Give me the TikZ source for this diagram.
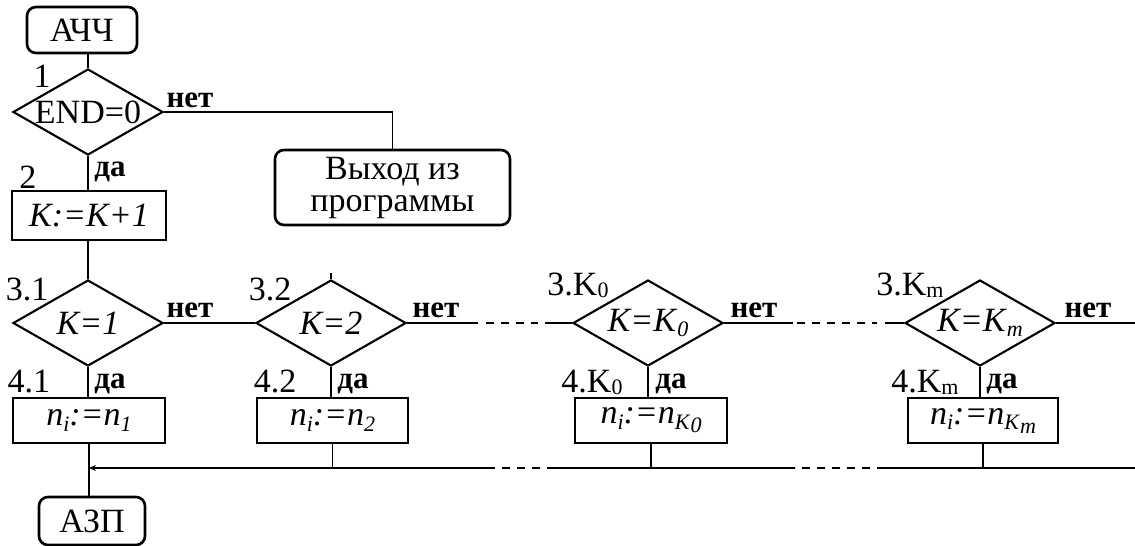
\documentclass[tikz,border=0pt]{standalone}
\usepackage{fontspec}
\setmainfont{Liberation Serif}
\usetikzlibrary{shapes.geometric,arrows.meta}

% lowered small text for indices
\newcommand\lowsub[1]{\raisebox{-0.35ex}{\fontsize{22}{22}\selectfont #1}}
% index in the block numbers, closer to the baseline
\newcommand\numsub[1]{\raisebox{-0.15ex}{\fontsize{22}{22}\selectfont #1}}

\begin{document}
\begin{tikzpicture}[x=1pt,y=-1pt,
  base/.style={font=\fontsize{34}{32}\selectfont},
  conn/.style={line width=1.3pt},
  term/.style={draw,line width=2.6pt,rounded corners=9pt,inner sep=0pt,base},
  proc/.style={draw,line width=2.8pt,inner sep=0pt,minimum height=45pt,base},
  cond/.style={draw,diamond,aspect=1.75,line width=2.1pt,inner sep=0pt,
               minimum width=150pt,minimum height=86pt,base},
  lbl/.style={inner sep=0pt,anchor=base,base},
  yes/.style={inner sep=0pt,anchor=base,font=\fontsize{31}{31}\selectfont\bfseries},
  dashseg/.style={conn,dash pattern=on 8pt off 7pt}
]
\useasboundingbox (0,0) rectangle (1135,546);

% terminals and the first check
\node[term,minimum width=110pt,minimum height=46pt] (ach) at (82,30) {АЧЧ};
\node[cond] (d1) at (88,112) {END=0};
\node[term,minimum width=235pt,minimum height=75pt,align=center] (exit) at (392.5,187.5) {Выход из\\программы};
\node[proc,minimum width=154pt,minimum height=49pt] (b2) at (89,215.5) {\textit{K:=K+1}};

% row of comparisons
\node[cond] (d31) at (88,323) {\textit{K=1}};
\node[cond] (d32) at (331,323) {\textit{K=2}};
\node[cond] (dk0) at (648,323) {\textit{K=K}\lowsub{\textit{0}}};
\node[cond] (dkm) at (980,323) {\textit{K=K}\lowsub{\textit{m}}};

% row of assignments
\node[proc,minimum width=152pt] (b41) at (89,420.5) {\textit{n}\lowsub{\textit{i}}\textit{:=n}\lowsub{\textit{1}}};
\node[proc,minimum width=151pt] (b42) at (332.5,420.5) {\textit{n}\lowsub{\textit{i}}\textit{:=n}\lowsub{\textit{2}}};
\node[proc,minimum width=152pt] (bk0) at (651,420.5) {\textit{n}\lowsub{\textit{i}}\textit{:=n}\lowsub{\textit{K}\lowsub{\textit{0}}}};
\node[proc,minimum width=150pt] (bkm) at (983,420.5) {\textit{n}\lowsub{\textit{i}}\textit{:=n}\lowsub{\textit{K}\lowsub{\textit{m}}}};

\node[term,minimum width=106pt,minimum height=48pt] (azp) at (92,521) {АЗП};

% block numbers
\node[lbl] (n1) at (42,87) {1};
\node[lbl] (n2) at (28,188) {2};
\node[lbl] (n31) at (27,300) {3.1};
\node[lbl] (n32) at (270,300) {3.2};
\node[lbl] (n3k0) at (578,295) {3.K\numsub{0}};
\node[lbl] (n3km) at (910,295) {3.K\numsub{m}};
\node[lbl] (n41) at (29,392) {4.1};
\node[lbl] (n42) at (275,392) {4.2};
\node[lbl] (n4k0) at (592,392) {4.K\numsub{0}};
\node[lbl] (n4km) at (925,392) {4.K\numsub{m}};

% branch labels
\node[yes] (no1) at (190,107) {нет};
\node[yes] (yes1) at (110,176) {да};
\node[yes] (no31) at (190,317) {нет};
\node[yes] (no32) at (436,317) {нет};
\node[yes] (nok0) at (754,317) {нет};
\node[yes] (nokm) at (1088,317) {нет};
\node[yes] (yes31) at (110,388) {да};
\node[yes] (yes32) at (353,388) {да};
\node[yes] (yesk0) at (671,388) {да};
\node[yes] (yeskm) at (1002,388) {да};

% free ends and breaks of the long lines
\coordinate (top32) at (331,273);
\coordinate (rowR) at (1135,323);
\coordinate (ga1) at (478,323);
\coordinate (ga2) at (486,323);
\coordinate (ga3) at (538,323);
\coordinate (ga4) at (545,323);
\coordinate (gb1) at (793,323);
\coordinate (gb2) at (797,323);
\coordinate (gb3) at (877,323);
\coordinate (gb4) at (885,323);
\coordinate (busR) at (1135,468);
\coordinate (bb1) at (885,468);
\coordinate (bb2) at (795,468);
\coordinate (bb3) at (555,468);
\coordinate (bb4) at (488,468);
\coordinate (busL) at (89,468);

% connectors
\draw[conn] (d1 |- ach.south) -- (d1.north);
\draw[conn] (d1.east) -| (exit.north);
\draw[conn] (d1.south) -- (d1.south |- b2.north);
\draw[conn] (b2.south -| d31) -- (d31.north);
\draw[conn] (d31.east) -- (d32.west);
\draw[conn] (top32) -- (d32.north);
\draw[conn] (d32.east) -- (ga1);
\draw[dashseg] (ga2) -- (ga3);
\draw[conn] (ga4) -- (dk0.west);
\draw[conn] (dk0.east) -- (gb1);
\draw[dashseg] (gb2) -- (gb3);
\draw[conn] (gb4) -- (dkm.west);
\draw[conn] (dkm.east) -- (rowR);

\draw[conn] (d31.south) -- (d31.south |- b41.north);
\draw[conn] (d32.south) -- (d32.south |- b42.north);
\draw[conn] (dk0.south) -- (dk0.south |- bk0.north);
\draw[conn] (dkm.south) -- (dkm.south |- bkm.north);

\draw[conn] (b42.south) -- (b42.south |- busR);
\draw[conn] (bk0.south) -- (bk0.south |- busR);
\draw[conn] (bkm.south) -- (bkm.south |- busR);

\draw[conn] (busR) -- (bb1);
\draw[dashseg] (bb1) -- (bb2);
\draw[conn] (bb2) -- (bb3);
\draw[dashseg] (bb3) -- (bb4);
\draw[conn,-{Stealth[length=7pt,width=6pt]}] (bb4) -- (busL);

\draw[conn] (b41.south) -- (b41.south |- azp.north);
\end{tikzpicture}
\end{document}
